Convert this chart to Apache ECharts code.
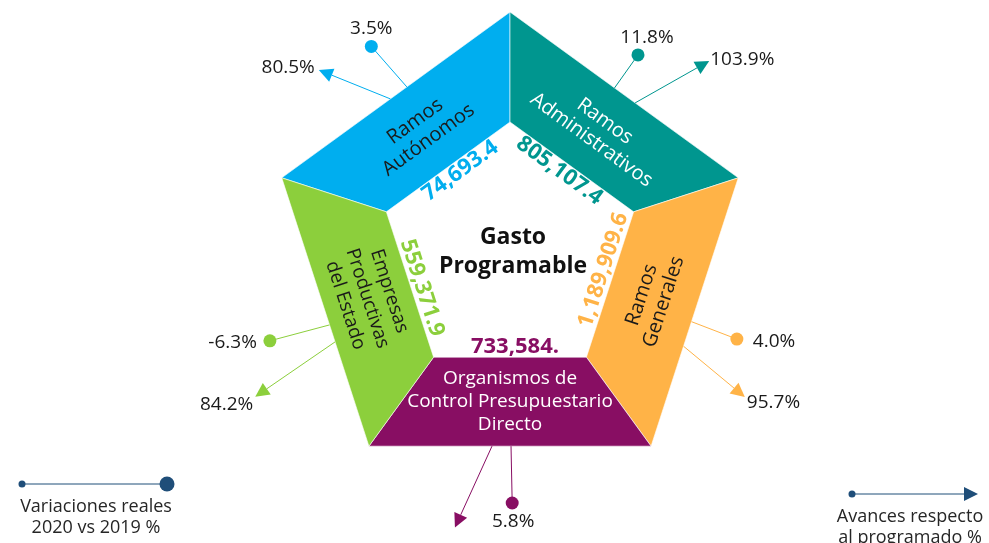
<!DOCTYPE html>
<html>
<head>
<meta charset="utf-8">
<script src="https://cdn.jsdelivr.net/npm/echarts@6/dist/echarts.min.js"></script>
<style>
html, body { margin: 0; padding: 0; background: #fff; }
#chart { width: 989px; height: 543px; }
</style>
</head>
<body>
<div id="chart"></div>
<script>
// segments, clockwise from the upper-left side of the pentagon
const categories = ['Ramos\nAutónomos', 'Ramos\nAdministrativos', 'Ramos\nGenerales', 'Organismos de\nControl Presupuestario\nDirecto', 'Empresas\nProductivas\ndel Estado']
const amountLabels = ['74,693.4', '805,107.4', '1,189,909.6', '733,584.', '559,371.9']
// Variaciones reales 2020 vs 2019 %
const realVariation = [3.5, 11.8, 4.0, 5.8, -6.3]
// Avances respecto al programado %
const progress = [80.5, 103.9, 95.7, null, 84.2]

const colors = ['#00AEEF', '#00968F', '#FFB347', '#880E63', '#8CCF3C']
const nameColors = ['#1a1a1a', '#ffffff', '#1a1a1a', '#ffffff', '#1a1a1a']
const FONT = '"Open Sans", "Noto Sans", sans-serif'

// layout: polar radius in px, angle in degrees clockwise from top
const CENTER = [510, 252]
const R_OUT = 240
const R_IN = 130
const midAngles = [324, 36, 108, 180, 252]
const amountShift = [4.6, -4.7, -7, -3, -4.2]
const nameSize = [20, 20, 20, 19, 19]
// [start angle on outer edge, end radius, end angle]
const dotCallout = [[328, 248, 326], [32.5, 235, 33], [111, 243, 111], [179.7, 251, 179.5], [248, 256, 249.7]]
const arrowCallout = [[322, 264, 313.6], [40, 276, 46.2], [118.5, 276, 121.7], [185.3, 281, 191.3], [242.8, 293, 240.4]]
// label offsets from the callout end [dx, dy, align]
const dotLabelPos = [[0, -18, 'center'], [9, -17, 'center'], [16, 3, 'left'], [1, 19, 'center'], [-13, 2, 'right']]
const arrowLabelPos = [[-4, -2, 'right'], [1, -1, 'left'], [2, 6, 'left'], [0, 0, 'center'], [-2, 8, 'right']]

const pct = v => v.toFixed(1) + '%'

function textRotation (mid) {
  let rot = -mid
  if (mid > 90 && mid < 270) rot += 180
  return rot * Math.PI / 180
}

function arrowParts (s, e, color) {
  const dx = e[0] - s[0]
  const dy = e[1] - s[1]
  const len = Math.sqrt(dx * dx + dy * dy)
  const ux = dx / len
  const uy = dy / len
  const base = [e[0] - ux * 14, e[1] - uy * 14]
  return [
    { type: 'line', shape: { x1: s[0], y1: s[1], x2: base[0], y2: base[1] }, style: { stroke: color, lineWidth: 1 } },
    {
      type: 'polygon',
      shape: { points: [e, [base[0] - uy * 7, base[1] + ux * 7], [base[0] + uy * 7, base[1] - ux * 7]] },
      style: { fill: color }
    }
  ]
}

function renderItem (params, api) {
  const i = api.value(0)
  const mid = midAngles[i]
  const color = colors[i]
  const pt = (r, a) => api.coord([r, a])
  const rot = textRotation(mid)
  const apothem = R_OUT * Math.cos(Math.PI / 5)
  const edgeR = a => apothem / Math.cos((a - mid) * Math.PI / 180)
  const children = []

  const ap = pt(95, mid + amountShift[i])
  children.push({
    type: 'text', x: ap[0], y: ap[1], rotation: rot,
    style: { text: amountLabels[i], fill: color, font: 'bold 22px ' + FONT, align: 'center', verticalAlign: 'middle' }
  })

  children.push({
    type: 'polygon',
    shape: { points: [pt(R_OUT, mid - 36), pt(R_OUT, mid + 36), pt(R_IN, mid + 36), pt(R_IN, mid - 36)] },
    style: { fill: color, stroke: '#fff', lineWidth: 0.6 }
  })

  const np = pt(150, mid)
  children.push({
    type: 'text', x: np[0], y: np[1], rotation: rot,
    style: { text: categories[i], fill: nameColors[i], font: nameSize[i] + 'px ' + FONT, lineHeight: 23, align: 'center', verticalAlign: 'middle' }
  })

  // variación real: line ending in a dot
  const dc = dotCallout[i]
  const ds = pt(edgeR(dc[0]), dc[0])
  const de = pt(dc[1], dc[2])
  children.push({ type: 'line', shape: { x1: ds[0], y1: ds[1], x2: de[0], y2: de[1] }, style: { stroke: color, lineWidth: 1 } })
  children.push({ type: 'circle', shape: { cx: de[0], cy: de[1], r: 6.5 }, style: { fill: color } })
  const dl = dotLabelPos[i]
  children.push({
    type: 'text', x: de[0] + dl[0], y: de[1] + dl[1],
    style: { text: pct(realVariation[i]), fill: '#1a1a1a', font: '19px ' + FONT, align: dl[2], verticalAlign: 'middle' }
  })

  // avance: line ending in an arrow
  const ac = arrowCallout[i]
  const as = pt(edgeR(ac[0]), ac[0])
  const ae = pt(ac[1], ac[2])
  arrowParts(as, ae, color).forEach(c => children.push(c))
  if (progress[i] != null) {
    const al = arrowLabelPos[i]
    children.push({
      type: 'text', x: ae[0] + al[0], y: ae[1] + al[1],
      style: { text: pct(progress[i]), fill: '#1a1a1a', font: '19px ' + FONT, align: al[2], verticalAlign: 'middle' }
    })
  }

  return { type: 'group', children }
}

const chart = echarts.init(document.getElementById('chart'))
chart.setOption({
  animation: false,
  backgroundColor: '#fff',
  polar: { center: CENTER, radius: R_OUT },
  angleAxis: { type: 'value', min: 0, max: 360, startAngle: 90, clockwise: true, show: false },
  radiusAxis: { type: 'value', min: 0, max: R_OUT, show: false },
  series: [{
    type: 'custom',
    coordinateSystem: 'polar',
    renderItem,
    data: categories.map((c, i) => [i, 0])
  }],
  graphic: [
    {
      type: 'text', x: CENTER[0] + 3, y: CENTER[1],
      style: { text: 'Gasto\nProgramable', fill: '#111', font: 'bold 23px ' + FONT, lineHeight: 29, align: 'center', verticalAlign: 'middle' }
    },
    // legend: variaciones reales
    { type: 'line', shape: { x1: 22, y1: 484, x2: 167, y2: 484 }, style: { stroke: '#1F4E79', lineWidth: 1 } },
    { type: 'circle', shape: { cx: 22, cy: 484, r: 3.5 }, style: { fill: '#1F4E79' } },
    { type: 'circle', shape: { cx: 167, cy: 484, r: 7.5 }, style: { fill: '#1F4E79' } },
    {
      type: 'text', x: 96, y: 517,
      style: { text: 'Variaciones reales\n2020 vs 2019 %', fill: '#262626', font: '18px ' + FONT, lineHeight: 21, align: 'center', verticalAlign: 'middle' }
    },
    // legend: avances
    { type: 'line', shape: { x1: 852, y1: 494, x2: 964, y2: 494 }, style: { stroke: '#1F4E79', lineWidth: 1 } },
    { type: 'circle', shape: { cx: 852, cy: 494, r: 3.5 }, style: { fill: '#1F4E79' } },
    { type: 'polygon', shape: { points: [[978, 494], [964, 487], [964, 501]] }, style: { fill: '#1F4E79' } },
    {
      type: 'text', x: 910, y: 527,
      style: { text: 'Avances respecto\nal programado %', fill: '#262626', font: '18px ' + FONT, lineHeight: 21, align: 'center', verticalAlign: 'middle' }
    }
  ]
})
</script>
</body>
</html>
